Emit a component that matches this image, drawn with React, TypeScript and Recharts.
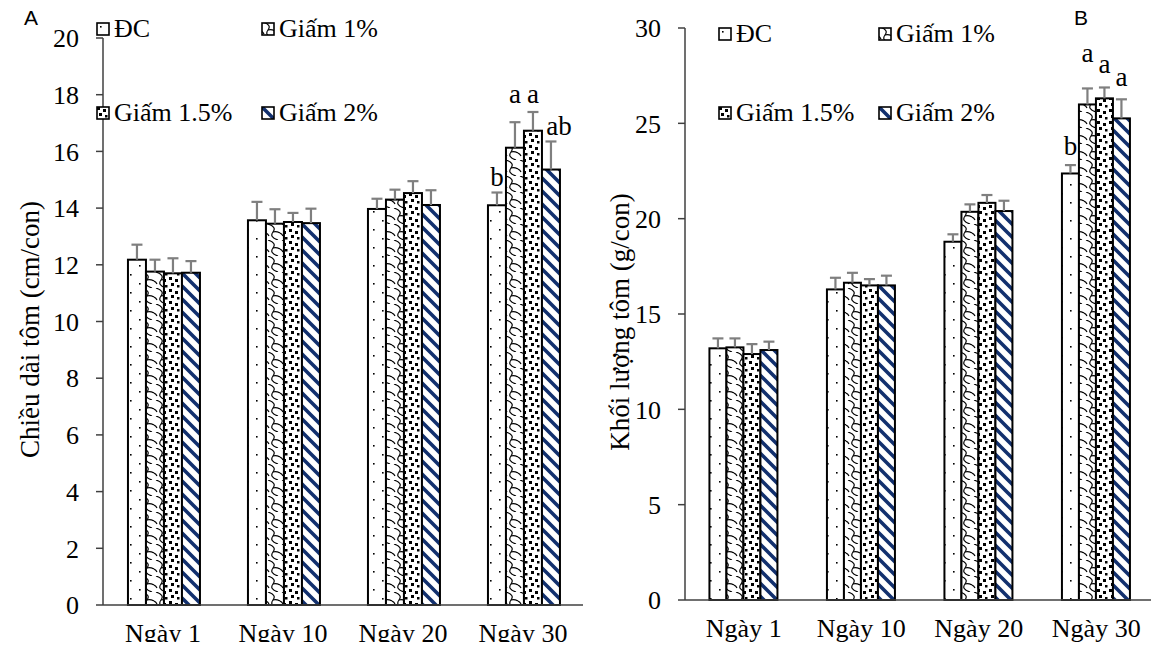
import React from 'react';
import { BarChart, Bar, XAxis, YAxis, Legend } from 'recharts';

// categories
const days = ['Ngày 1', 'Ngày 10', 'Ngày 20', 'Ngày 30'];
const seriesNames = ['ĐC', 'Giấm 1%', 'Giấm 1.5%', 'Giấm 2%'];

// A: chiều dài (cm/con)
const lenDC = [12.18, 13.57, 13.97, 14.1];
const lenG1 = [11.76, 13.45, 14.3, 16.13];
const lenG15 = [11.7, 13.51, 14.53, 16.73];
const lenG2 = [11.72, 13.47, 14.11, 15.36];
const lenDCErr = [0.53, 0.65, 0.36, 0.45];
const lenG1Err = [0.42, 0.51, 0.35, 0.9];
const lenG15Err = [0.53, 0.32, 0.42, 0.66];
const lenG2Err = [0.41, 0.51, 0.52, 0.99];
const lenLetters = [['', '', '', 'b'], ['', '', '', 'a'], ['', '', '', 'a'], ['', '', '', 'ab']];
const lenTicks = [0, 2, 4, 6, 8, 10, 12, 14, 16, 18, 20];

// B: khối lượng (g/con)
const wDC = [13.2, 16.29, 18.79, 22.37];
const wG1 = [13.25, 16.64, 20.36, 25.99];
const wG15 = [12.9, 16.5, 20.83, 26.31];
const wG2 = [13.11, 16.5, 20.4, 25.26];
const wDCErr = [0.52, 0.61, 0.39, 0.44];
const wG1Err = [0.47, 0.52, 0.39, 0.84];
const wG15Err = [0.52, 0.33, 0.41, 0.57];
const wG2Err = [0.44, 0.51, 0.54, 1.0];
const wLetters = [['', '', '', 'b'], ['', '', '', 'a'], ['', '', '', 'a'], ['', '', '', 'a']];
const wTicks = [0, 5, 10, 15, 20, 25, 30];

const keys = ['s0', 's1', 's2', 's3'];
const patterns = ['pDots', 'pScale', 'pConfetti', 'pStripe'];

function buildRows(vals: number[][], errs: number[][], letters: string[][]) {
  return days.map((d, i) => {
    const row: any = { day: d };
    keys.forEach((k, s) => {
      row[k] = vals[s][i];
      row[k + 'e'] = errs[s][i];
      row[k + 'l'] = letters[s][i];
    });
    return row;
  });
}

const lenData = buildRows([lenDC, lenG1, lenG15, lenG2], [lenDCErr, lenG1Err, lenG15Err, lenG2Err], lenLetters);
const wData = buildRows([wDC, wG1, wG15, wG2], [wDCErr, wG1Err, wG15Err, wG2Err], wLetters);

const FONT = '"Liberation Serif", "Times New Roman", serif';
const AXIS = '#404040';
const ERR = '#7f7f7f';

// letter offsets (dx, dy) from error-bar top, per series
const lenLabelOff = [[0, -7], [0, -19], [0, -9], [8, -6]];
const wLabelOff = [[0, -10], [0, -26], [0, -14], [0, -13]];

function makeShape(s: number, off: number[][]) {
  const k = keys[s];
  return (props: any) => {
    const { x, y, width, height, payload } = props;
    const v = payload[k];
    const ppu = v ? height / v : 0;
    const top = y - payload[k + 'e'] * ppu;
    const cx = x + width / 2;
    const letter = payload[k + 'l'];
    return (
      <g>
        <rect x={x} y={y} width={width} height={height} fill={`url(#${patterns[s]})`} stroke="#000" strokeWidth={2} />
        <line x1={cx} x2={cx} y1={y} y2={top} stroke={ERR} strokeWidth={2.2} />
        <line x1={cx - 5.5} x2={cx + 5.5} y1={top} y2={top} stroke={ERR} strokeWidth={2.2} />
        {letter ? (
          <text x={cx + off[s][0]} y={top + off[s][1]} textAnchor="middle" fontFamily={FONT} fontSize={27} fill="#000">
            {letter}
          </text>
        ) : null}
      </g>
    );
  };
}

function Patterns() {
  return (
    <svg width={0} height={0} style={{ position: 'absolute' }}>
      <defs>
        <pattern id="pDots" patternUnits="userSpaceOnUse" width={18} height={18}>
          <rect width={18} height={18} fill="#fff" />
          <rect x={4} y={4} width={1.6} height={1.6} fill="#000" />
          <rect x={13} y={13} width={1.6} height={1.6} fill="#000" />
        </pattern>
        <pattern id="pScale" patternUnits="userSpaceOnUse" width={14} height={16}>
          <rect width={14} height={16} fill="#fff" />
          <path d="M2,0 Q11,3 7,8 Q3,13 12,16" fill="none" stroke="#000" strokeWidth={1.2} />
          <path d="M7,8 Q10,7 14,9" fill="none" stroke="#000" strokeWidth={1.2} />
          <path d="M0,9 Q2,10 3,12" fill="none" stroke="#000" strokeWidth={1.2} />
        </pattern>
        <pattern id="pConfetti" patternUnits="userSpaceOnUse" width={12} height={12}>
          <rect width={12} height={12} fill="#fff" />
          <rect x={1} y={1} width={3} height={3} fill="#000" />
          <rect x={7} y={3} width={3} height={3} fill="#000" />
          <rect x={3} y={7} width={3} height={3} fill="#000" />
          <rect x={9} y={9} width={2.5} height={2.5} fill="#000" />
        </pattern>
        <pattern id="pStripe" patternUnits="userSpaceOnUse" width={13} height={13}>
          <rect width={13} height={13} fill="#fff" />
          <path d="M0,0 L13,13 M-3,10 L3,16 M10,-3 L16,3" stroke="#12306e" strokeWidth={3.6} />
        </pattern>
      </defs>
    </svg>
  );
}

function makeLegend(col: number[], row: number[]) {
  return () => (
    <div style={{ position: 'relative', width: '100%', height: '100%' }}>
      {seriesNames.map((n, i) => (
        <div
          key={n}
          style={{
            position: 'absolute',
            left: col[i % 2],
            top: row[Math.floor(i / 2)] - 15,
            height: 30,
            display: 'flex',
            alignItems: 'center',
            whiteSpace: 'nowrap',
            fontFamily: FONT,
            fontSize: 26,
            color: '#000',
          }}
        >
          <svg width={15} height={14} style={{ marginRight: 3 }}>
            <rect x={1} y={1} width={12} height={12} fill={`url(#${patterns[i]})`} stroke="#000" strokeWidth={1.6} />
          </svg>
          {n}
        </div>
      ))}
    </div>
  );
}

const tickStyle = { fontFamily: FONT, fontSize: 26, fill: '#000' };

function Panel(props: {
  data: any[];
  width: number;
  margin: any;
  yWidth: number;
  ticks: number[];
  max: number;
  title: string;
  off: number[][];
  legendCol: number[];
  legendRow: number[];
  titleX: number;
}) {
  const { data, width, margin, yWidth, ticks, max, title, off, legendCol, legendRow, titleX } = props;
  return (
    <BarChart width={width} height={650} data={data} margin={margin} barGap={0} barCategoryGap="20.8%">
      <XAxis
        dataKey="day"
        stroke={AXIS}
        strokeWidth={1.5}
        tickSize={0}
        tickMargin={19}
        height={40}
        tick={tickStyle}
      />
      <YAxis
        domain={[0, max]}
        ticks={ticks}
        interval={0}
        width={yWidth}
        stroke={AXIS}
        strokeWidth={1.5}
        tickSize={7}
        tickMargin={17}
        tick={tickStyle}
        label={(p: any) => {
          const vb = p.viewBox;
          const cy = vb.y + vb.height / 2 + 8;
          return (
            <text
              x={titleX}
              y={cy}
              transform={`rotate(-90, ${titleX}, ${cy})`}
              textAnchor="middle"
              dominantBaseline="central"
              fontFamily={FONT}
              fontSize={27}
              fill="#000"
            >
              {title}
            </text>
          );
        }}
      />
      <Legend
        layout="horizontal"
        verticalAlign="middle"
        align="center"
        wrapperStyle={{ left: 0, top: 0, width: width, height: 140 }}
        content={makeLegend(legendCol, legendRow)}
      />
      {keys.map((k, s) => (
        <Bar key={k} dataKey={k} name={seriesNames[s]} fill="#fff" isAnimationActive={false} shape={makeShape(s, off)} />
      ))}
    </BarChart>
  );
}

export default function App() {
  return (
    <div style={{ position: 'relative', width: 1159, height: 650, margin: -8, background: '#fff', overflow: 'hidden' }}>
      <Patterns />
      <div style={{ position: 'absolute', left: 0, top: 0 }}>
        <Panel
          data={lenData}
          width={600}
          margin={{ top: 38, right: 17, bottom: 5, left: 0 }}
          yWidth={103}
          ticks={lenTicks}
          max={20}
          title="Chiều dài tôm (cm/con)"
          off={lenLabelOff}
          legendCol={[96, 261]}
          legendRow={[29, 113]}
          titleX={30}
        />
      </div>
      <div style={{ position: 'absolute', left: 580, top: 0 }}>
        <Panel
          data={wData}
          width={579}
          margin={{ top: 28, right: 4, bottom: 10, left: 0 }}
          yWidth={105}
          ticks={wTicks}
          max={30}
          title="Khối lượng tôm (g/con)"
          off={wLabelOff}
          legendCol={[138, 298]}
          legendRow={[34, 113]}
          titleX={40}
        />
      </div>
      <div style={{ position: 'absolute', left: 24, top: 6, fontFamily: '"Liberation Sans", Arial, sans-serif', fontSize: 21, lineHeight: '24px' }}>A</div>
      <div style={{ position: 'absolute', left: 1074, top: 6, fontFamily: '"Liberation Sans", Arial, sans-serif', fontSize: 21, lineHeight: '24px' }}>B</div>
    </div>
  );
}
